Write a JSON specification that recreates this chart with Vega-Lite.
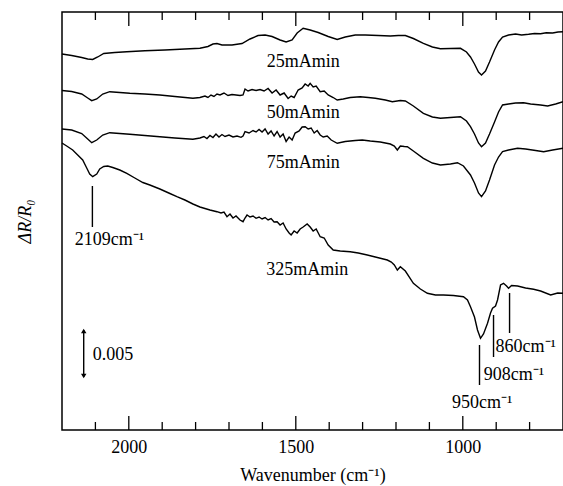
{
"$schema": "https://vega.github.io/schema/vega-lite/v6.json",
"width": 501, "height": 418,
"autosize": {"type": "none"},
"padding": {"left": 62, "top": 12, "right": 0, "bottom": 56},
"background": "white",
"config": {
  "view": {"stroke": "black", "strokeWidth": 1.5},
  "font": "Liberation Serif",
  "axis": {"grid": false, "domain": false, "zindex": 1, "tickColor": "black", "tickWidth": 1.3, "labelFont": "Liberation Serif", "labelFontSize": 18, "labelColor": "black", "titleFont": "Liberation Serif", "titleFontSize": 18, "titleFontWeight": "normal", "titleColor": "black"}
},
"datasets": {
  "spectra": [
    {"s":"25","w":2200,"y":376},{"s":"25","w":2171,"y":374.5},{"s":"25","w":2141,"y":372.5},{"s":"25","w":2123,"y":371},{"s":"25","w":2108,"y":370.5},{"s":"25","w":2093,"y":373},{"s":"25","w":2075,"y":376.5},{"s":"25","w":2042,"y":377.5},{"s":"25","w":2006,"y":378.3},{"s":"25","w":1952,"y":379.2},{"s":"25","w":1892,"y":380},{"s":"25","w":1832,"y":381},{"s":"25","w":1787,"y":381.7},{"s":"25","w":1763,"y":383.5},{"s":"25","w":1748,"y":386},{"s":"25","w":1736,"y":386.5},{"s":"25","w":1721,"y":385},{"s":"25","w":1691,"y":385},{"s":"25","w":1661,"y":386.5},{"s":"25","w":1637,"y":391},{"s":"25","w":1613,"y":394.5},{"s":"25","w":1592,"y":395},{"s":"25","w":1571,"y":393.5},{"s":"25","w":1547,"y":390},{"s":"25","w":1529,"y":388},{"s":"25","w":1511,"y":390},{"s":"25","w":1496,"y":397},{"s":"25","w":1478,"y":401.7},{"s":"25","w":1457,"y":400},{"s":"25","w":1433,"y":397.5},{"s":"25","w":1403,"y":393.5},{"s":"25","w":1376,"y":390.5},{"s":"25","w":1352,"y":393},{"s":"25","w":1322,"y":395},{"s":"25","w":1292,"y":395},{"s":"25","w":1253,"y":394.5},{"s":"25","w":1217,"y":394},{"s":"25","w":1193,"y":394.5},{"s":"25","w":1172,"y":394.5},{"s":"25","w":1148,"y":391.5},{"s":"25","w":1118,"y":386.7},{"s":"25","w":1091,"y":383},{"s":"25","w":1067,"y":381.3},{"s":"25","w":1037,"y":381.5},{"s":"25","w":1007,"y":381.7},{"s":"25","w":989,"y":378},{"s":"25","w":977,"y":373},{"s":"25","w":965,"y":366},{"s":"25","w":953,"y":358},{"s":"25","w":944,"y":355},{"s":"25","w":932,"y":359},{"s":"25","w":920,"y":368},{"s":"25","w":905,"y":380},{"s":"25","w":893,"y":388},{"s":"25","w":881,"y":393},{"s":"25","w":863,"y":395},{"s":"25","w":842,"y":396},{"s":"25","w":824,"y":395},{"s":"25","w":803,"y":395.7},{"s":"25","w":785,"y":396.5},{"s":"25","w":767,"y":396.2},{"s":"25","w":750,"y":397.3},{"s":"25","w":731,"y":397},{"s":"25","w":715,"y":398},{"s":"25","w":700,"y":398.3},
    {"s":"50","w":2200,"y":339.5},{"s":"50","w":2171,"y":338.5},{"s":"50","w":2141,"y":336},{"s":"50","w":2123,"y":332},{"s":"50","w":2111,"y":329.3},{"s":"50","w":2096,"y":331},{"s":"50","w":2078,"y":336},{"s":"50","w":2057,"y":338.3},{"s":"50","w":2027,"y":337.5},{"s":"50","w":1997,"y":336.7},{"s":"50","w":1952,"y":336},{"s":"50","w":1907,"y":335},{"s":"50","w":1862,"y":333.5},{"s":"50","w":1808,"y":331.7},{"s":"50","w":1787,"y":332.5},{"s":"50","w":1772,"y":334},{"s":"50","w":1763,"y":332.5},{"s":"50","w":1754,"y":335},{"s":"50","w":1745,"y":333.5},{"s":"50","w":1736,"y":336},{"s":"50","w":1727,"y":335},{"s":"50","w":1715,"y":337},{"s":"50","w":1703,"y":334.5},{"s":"50","w":1691,"y":335.5},{"s":"50","w":1679,"y":335},{"s":"50","w":1667,"y":334.5},{"s":"50","w":1658,"y":335},{"s":"50","w":1652,"y":341},{"s":"50","w":1643,"y":339},{"s":"50","w":1631,"y":340.5},{"s":"50","w":1619,"y":339.5},{"s":"50","w":1607,"y":340.5},{"s":"50","w":1595,"y":339},{"s":"50","w":1583,"y":341.5},{"s":"50","w":1571,"y":337},{"s":"50","w":1559,"y":340},{"s":"50","w":1547,"y":335},{"s":"50","w":1535,"y":337},{"s":"50","w":1523,"y":331.5},{"s":"50","w":1514,"y":334},{"s":"50","w":1505,"y":332.5},{"s":"50","w":1493,"y":340},{"s":"50","w":1481,"y":342},{"s":"50","w":1472,"y":346},{"s":"50","w":1463,"y":344},{"s":"50","w":1457,"y":346.7},{"s":"50","w":1448,"y":343},{"s":"50","w":1439,"y":344},{"s":"50","w":1427,"y":338.3},{"s":"50","w":1415,"y":339},{"s":"50","w":1403,"y":335},{"s":"50","w":1388,"y":332.5},{"s":"50","w":1376,"y":330},{"s":"50","w":1358,"y":331},{"s":"50","w":1337,"y":332.5},{"s":"50","w":1307,"y":333.3},{"s":"50","w":1283,"y":332.5},{"s":"50","w":1262,"y":331.7},{"s":"50","w":1232,"y":330},{"s":"50","w":1211,"y":328.3},{"s":"50","w":1187,"y":329.5},{"s":"50","w":1172,"y":329},{"s":"50","w":1148,"y":324},{"s":"50","w":1118,"y":316.7},{"s":"50","w":1091,"y":313},{"s":"50","w":1067,"y":311.7},{"s":"50","w":1037,"y":312.5},{"s":"50","w":1007,"y":313.3},{"s":"50","w":989,"y":309},{"s":"50","w":977,"y":303.3},{"s":"50","w":965,"y":296},{"s":"50","w":953,"y":287},{"s":"50","w":944,"y":283.3},{"s":"50","w":932,"y":287},{"s":"50","w":920,"y":296},{"s":"50","w":905,"y":308},{"s":"50","w":893,"y":318},{"s":"50","w":881,"y":325},{"s":"50","w":863,"y":326},{"s":"50","w":842,"y":327},{"s":"50","w":818,"y":327.3},{"s":"50","w":797,"y":326},{"s":"50","w":767,"y":325},{"s":"50","w":746,"y":324},{"s":"50","w":722,"y":326},{"s":"50","w":700,"y":328.3},
    {"s":"75","w":2200,"y":301},{"s":"75","w":2171,"y":300},{"s":"75","w":2141,"y":296.5},{"s":"75","w":2123,"y":291},{"s":"75","w":2111,"y":287.3},{"s":"75","w":2096,"y":290},{"s":"75","w":2078,"y":295},{"s":"75","w":2057,"y":297.3},{"s":"75","w":2027,"y":296.5},{"s":"75","w":1997,"y":295.7},{"s":"75","w":1952,"y":294.5},{"s":"75","w":1907,"y":293.3},{"s":"75","w":1862,"y":292},{"s":"75","w":1808,"y":290.7},{"s":"75","w":1787,"y":292},{"s":"75","w":1775,"y":293.5},{"s":"75","w":1766,"y":291.5},{"s":"75","w":1757,"y":294.5},{"s":"75","w":1748,"y":292.5},{"s":"75","w":1739,"y":296},{"s":"75","w":1730,"y":293},{"s":"75","w":1721,"y":295.5},{"s":"75","w":1712,"y":293.5},{"s":"75","w":1700,"y":295},{"s":"75","w":1688,"y":293},{"s":"75","w":1676,"y":294},{"s":"75","w":1664,"y":292.7},{"s":"75","w":1658,"y":294},{"s":"75","w":1652,"y":298.3},{"s":"75","w":1640,"y":297},{"s":"75","w":1628,"y":299.5},{"s":"75","w":1619,"y":298},{"s":"75","w":1610,"y":300.5},{"s":"75","w":1601,"y":298},{"s":"75","w":1592,"y":301},{"s":"75","w":1583,"y":296},{"s":"75","w":1574,"y":299},{"s":"75","w":1565,"y":294},{"s":"75","w":1556,"y":298.5},{"s":"75","w":1547,"y":293},{"s":"75","w":1538,"y":296},{"s":"75","w":1529,"y":288.5},{"s":"75","w":1520,"y":293},{"s":"75","w":1511,"y":290},{"s":"75","w":1502,"y":297},{"s":"75","w":1490,"y":299},{"s":"75","w":1481,"y":303},{"s":"75","w":1472,"y":303.3},{"s":"75","w":1463,"y":301},{"s":"75","w":1454,"y":302},{"s":"75","w":1445,"y":297},{"s":"75","w":1436,"y":299.5},{"s":"75","w":1427,"y":295},{"s":"75","w":1418,"y":293},{"s":"75","w":1406,"y":294},{"s":"75","w":1394,"y":290},{"s":"75","w":1376,"y":286.7},{"s":"75","w":1352,"y":288.5},{"s":"75","w":1322,"y":289.5},{"s":"75","w":1301,"y":290},{"s":"75","w":1277,"y":289},{"s":"75","w":1247,"y":288},{"s":"75","w":1217,"y":286},{"s":"75","w":1205,"y":284},{"s":"75","w":1196,"y":280},{"s":"75","w":1187,"y":284},{"s":"75","w":1175,"y":283.5},{"s":"75","w":1166,"y":283.3},{"s":"75","w":1148,"y":279},{"s":"75","w":1118,"y":271.7},{"s":"75","w":1091,"y":267},{"s":"75","w":1067,"y":265},{"s":"75","w":1037,"y":266},{"s":"75","w":1016,"y":267.3},{"s":"75","w":998,"y":264},{"s":"75","w":977,"y":255},{"s":"75","w":965,"y":247},{"s":"75","w":953,"y":237},{"s":"75","w":944,"y":233.3},{"s":"75","w":932,"y":239},{"s":"75","w":920,"y":250},{"s":"75","w":905,"y":265},{"s":"75","w":893,"y":273},{"s":"75","w":881,"y":278.3},{"s":"75","w":863,"y":280},{"s":"75","w":836,"y":281.7},{"s":"75","w":812,"y":281},{"s":"75","w":782,"y":279.5},{"s":"75","w":758,"y":278.3},{"s":"75","w":731,"y":280},{"s":"75","w":700,"y":281.7},
    {"s":"325","w":2200,"y":287},{"s":"325","w":2186,"y":284},{"s":"325","w":2168,"y":280},{"s":"325","w":2153,"y":275},{"s":"325","w":2138,"y":270},{"s":"325","w":2126,"y":262},{"s":"325","w":2117,"y":256},{"s":"325","w":2108,"y":253.3},{"s":"325","w":2096,"y":256},{"s":"325","w":2087,"y":261},{"s":"325","w":2075,"y":263.5},{"s":"325","w":2063,"y":264},{"s":"325","w":2048,"y":262.5},{"s":"325","w":2027,"y":260},{"s":"325","w":2006,"y":256.7},{"s":"325","w":1982,"y":252},{"s":"325","w":1958,"y":247.5},{"s":"325","w":1937,"y":245},{"s":"325","w":1907,"y":241},{"s":"325","w":1877,"y":236.5},{"s":"325","w":1856,"y":233.3},{"s":"325","w":1832,"y":230},{"s":"325","w":1808,"y":226},{"s":"325","w":1787,"y":223},{"s":"325","w":1757,"y":220},{"s":"325","w":1736,"y":218.3},{"s":"325","w":1724,"y":217},{"s":"325","w":1715,"y":218},{"s":"325","w":1706,"y":213.3},{"s":"325","w":1697,"y":216},{"s":"325","w":1688,"y":212},{"s":"325","w":1679,"y":214},{"s":"325","w":1667,"y":210},{"s":"325","w":1658,"y":208.3},{"s":"325","w":1652,"y":212},{"s":"325","w":1646,"y":215},{"s":"325","w":1637,"y":213},{"s":"325","w":1628,"y":214},{"s":"325","w":1619,"y":211.7},{"s":"325","w":1610,"y":213},{"s":"325","w":1601,"y":211},{"s":"325","w":1592,"y":212.5},{"s":"325","w":1583,"y":210},{"s":"325","w":1574,"y":211.5},{"s":"325","w":1565,"y":208},{"s":"325","w":1556,"y":208.3},{"s":"325","w":1547,"y":205},{"s":"325","w":1538,"y":207},{"s":"325","w":1529,"y":201},{"s":"325","w":1520,"y":197},{"s":"325","w":1514,"y":195},{"s":"325","w":1505,"y":199},{"s":"325","w":1496,"y":197},{"s":"325","w":1487,"y":201},{"s":"325","w":1478,"y":203},{"s":"325","w":1466,"y":206},{"s":"325","w":1457,"y":203},{"s":"325","w":1448,"y":199},{"s":"325","w":1439,"y":201},{"s":"325","w":1427,"y":193.3},{"s":"325","w":1415,"y":192},{"s":"325","w":1403,"y":185},{"s":"325","w":1388,"y":180},{"s":"325","w":1367,"y":179},{"s":"325","w":1337,"y":178.3},{"s":"325","w":1313,"y":177},{"s":"325","w":1286,"y":175},{"s":"325","w":1262,"y":173},{"s":"325","w":1238,"y":171},{"s":"325","w":1226,"y":170},{"s":"325","w":1214,"y":168},{"s":"325","w":1205,"y":165},{"s":"325","w":1196,"y":160},{"s":"325","w":1187,"y":163.3},{"s":"325","w":1172,"y":159},{"s":"325","w":1148,"y":146.7},{"s":"325","w":1127,"y":141},{"s":"325","w":1106,"y":136.7},{"s":"325","w":1082,"y":135},{"s":"325","w":1058,"y":135},{"s":"325","w":1028,"y":134.5},{"s":"325","w":998,"y":133.3},{"s":"325","w":986,"y":130},{"s":"325","w":977,"y":123.3},{"s":"325","w":965,"y":113},{"s":"325","w":956,"y":100},{"s":"325","w":947,"y":91.7},{"s":"325","w":938,"y":96},{"s":"325","w":926,"y":106.7},{"s":"325","w":917,"y":117},{"s":"325","w":911,"y":121.7},{"s":"325","w":902,"y":124},{"s":"325","w":896,"y":130},{"s":"325","w":887,"y":145},{"s":"325","w":878,"y":146.7},{"s":"325","w":869,"y":144},{"s":"325","w":863,"y":141.7},{"s":"325","w":854,"y":144.5},{"s":"325","w":836,"y":144},{"s":"325","w":812,"y":142},{"s":"325","w":788,"y":140.7},{"s":"325","w":767,"y":139},{"s":"325","w":737,"y":135},{"s":"325","w":716,"y":137},{"s":"325","w":700,"y":136.7},
    {"s":"m2109","w":2109,"y":203},{"s":"m2109","w":2109,"y":244},
    {"s":"m950","w":950,"y":45},{"s":"m950","w":950,"y":85},
    {"s":"m908","w":908,"y":73},{"s":"m908","w":908,"y":115},
    {"s":"m860","w":860,"y":97},{"s":"m860","w":860,"y":137},
    {"s":"bar","w":2135,"y":53},{"s":"bar","w":2135,"y":100}
  ],
  "minorTicks": [{"w":2100},{"w":1900},{"w":1800},{"w":1700},{"w":1600},{"w":1400},{"w":1300},{"w":1200},{"w":1100},{"w":900},{"w":800}],
  "majorTicks": [{"w":2000},{"w":1500},{"w":1000}],
  "heads": [
    {"w":2135,"y":99,"shape":"triangle-up"},
    {"w":2135,"y":54,"shape":"triangle-down"}
  ],
  "centerLabels": [
    {"w":1478,"y":363,"t":"25mAmin"},
    {"w":1478,"y":312,"t":"50mAmin"},
    {"w":1478,"y":262,"t":"75mAmin"},
    {"w":1466,"y":155,"t":"325mAmin"}
  ],
  "leftLabels": [
    {"w":2162,"y":185,"t":"2109cm⁻¹"},
    {"w":2108,"y":70,"t":"0.005"},
    {"w":1032,"y":22,"t":"950cm⁻¹"},
    {"w":937,"y":50,"t":"908cm⁻¹"},
    {"w":902,"y":78,"t":"860cm⁻¹"}
  ]
},
"resolve": {"axis": {"x": "independent", "y": "independent"}},
"layer": [
  {
    "data": {"name": "spectra"},
    "mark": {"type": "line", "color": "black", "strokeWidth": 1.4},
    "encoding": {
      "x": {"field": "w", "type": "quantitative", "scale": {"domain": [700, 2200], "reverse": true, "nice": false, "zero": false},
            "axis": {"orient": "bottom", "values": [2000, 1500, 1000], "format": "d", "ticks": false, "labelPadding": 8, "labelFlush": false, "title": "Wavenumber (cm⁻¹)", "titlePadding": 10, "zindex": 1}},
      "y": {"field": "y", "type": "quantitative", "scale": {"domain": [0, 418], "nice": false, "zero": false},
            "axis": {"orient": "left", "ticks": false, "labels": false, "title": "ΔR/R₀", "titleFontStyle": "italic", "titlePadding": 28, "zindex": 1}},
      "detail": {"field": "s", "type": "nominal"}
    }
  },
  {
    "data": {"name": "minorTicks"},
    "mark": {"type": "tick", "orient": "vertical", "color": "black", "opacity": 1, "size": 8, "thickness": 1.3, "yOffset": -4},
    "encoding": {
      "x": {"field": "w", "type": "quantitative", "scale": {"domain": [700, 2200], "reverse": true, "nice": false, "zero": false}, "axis": null},
      "y": {"datum": 0, "type": "quantitative", "scale": {"domain": [0, 418], "nice": false, "zero": false}, "axis": null}
    }
  },
  {
    "data": {"name": "minorTicks"},
    "mark": {"type": "tick", "orient": "vertical", "color": "black", "opacity": 1, "size": 8, "thickness": 1.3, "yOffset": 4},
    "encoding": {
      "x": {"field": "w", "type": "quantitative", "scale": {"domain": [700, 2200], "reverse": true, "nice": false, "zero": false}, "axis": null},
      "y": {"datum": 418, "type": "quantitative", "scale": {"domain": [0, 418], "nice": false, "zero": false}, "axis": null}
    }
  },
  {
    "data": {"name": "majorTicks"},
    "mark": {"type": "tick", "orient": "vertical", "color": "black", "opacity": 1, "size": 14, "thickness": 1.3, "yOffset": -7},
    "encoding": {
      "x": {"field": "w", "type": "quantitative", "scale": {"domain": [700, 2200], "reverse": true, "nice": false, "zero": false}, "axis": null},
      "y": {"datum": 0, "type": "quantitative", "scale": {"domain": [0, 418], "nice": false, "zero": false}, "axis": null}
    }
  },
  {
    "data": {"name": "majorTicks"},
    "mark": {"type": "tick", "orient": "vertical", "color": "black", "opacity": 1, "size": 14, "thickness": 1.3, "yOffset": 7},
    "encoding": {
      "x": {"field": "w", "type": "quantitative", "scale": {"domain": [700, 2200], "reverse": true, "nice": false, "zero": false}, "axis": null},
      "y": {"datum": 418, "type": "quantitative", "scale": {"domain": [0, 418], "nice": false, "zero": false}, "axis": null}
    }
  },
  {
    "data": {"name": "heads"},
    "mark": {"type": "point", "filled": true, "color": "black", "size": 30, "opacity": 1},
    "encoding": {
      "x": {"field": "w", "type": "quantitative", "scale": {"domain": [700, 2200], "reverse": true, "nice": false, "zero": false}, "axis": null},
      "y": {"field": "y", "type": "quantitative", "scale": {"domain": [0, 418], "nice": false, "zero": false}, "axis": null},
      "shape": {"field": "shape", "type": "nominal", "scale": null, "legend": null}
    }
  },
  {
    "data": {"name": "centerLabels"},
    "mark": {"type": "text", "align": "center", "baseline": "alphabetic", "font": "Liberation Serif", "fontSize": 18, "color": "black"},
    "encoding": {
      "x": {"field": "w", "type": "quantitative", "scale": {"domain": [700, 2200], "reverse": true, "nice": false, "zero": false}, "axis": null},
      "y": {"field": "y", "type": "quantitative", "scale": {"domain": [0, 418], "nice": false, "zero": false}, "axis": null},
      "text": {"field": "t"}
    }
  },
  {
    "data": {"name": "leftLabels"},
    "mark": {"type": "text", "align": "left", "baseline": "alphabetic", "font": "Liberation Serif", "fontSize": 18, "color": "black"},
    "encoding": {
      "x": {"field": "w", "type": "quantitative", "scale": {"domain": [700, 2200], "reverse": true, "nice": false, "zero": false}, "axis": null},
      "y": {"field": "y", "type": "quantitative", "scale": {"domain": [0, 418], "nice": false, "zero": false}, "axis": null},
      "text": {"field": "t"}
    }
  }
]
}
